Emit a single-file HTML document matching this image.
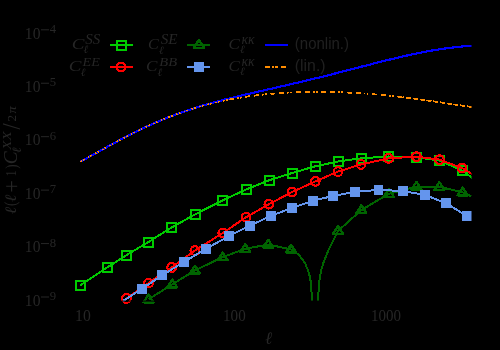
<!DOCTYPE html>
<html><head><meta charset="utf-8"><style>
html,body{margin:0;padding:0;background:#000;}
svg{display:block;}
</style></head><body>
<svg width="500" height="350" viewBox="0 0 500 350">
<rect width="500" height="350" fill="#000"/>
<g style="will-change:transform"><text transform="translate(75.05,320.70) scale(0.967,1)" font-family="Liberation Serif" font-style="normal" font-size="16.24" fill="#262626">10</text>
<text transform="translate(223.08,320.70) scale(0.929,1)" font-family="Liberation Serif" font-style="normal" font-size="16.24" fill="#262626">100</text>
<text transform="translate(370.94,320.70) scale(0.924,1)" font-family="Liberation Serif" font-style="normal" font-size="16.24" fill="#262626">1000</text>
<text transform="translate(24.85,38.50) scale(0.960,1)" font-family="Liberation Serif" font-style="normal" font-size="16.24" fill="#262626">10</text>
<text transform="translate(49.80,33.00) scale(1.033,1)" font-family="Liberation Serif" font-style="normal" font-size="12.31" fill="#262626">4</text>
<text transform="translate(24.85,91.94) scale(0.960,1)" font-family="Liberation Serif" font-style="normal" font-size="16.24" fill="#262626">10</text>
<text transform="translate(49.80,86.44) scale(1.033,1)" font-family="Liberation Serif" font-style="normal" font-size="12.31" fill="#262626">5</text>
<text transform="translate(24.85,145.38) scale(0.960,1)" font-family="Liberation Serif" font-style="normal" font-size="16.24" fill="#262626">10</text>
<text transform="translate(49.80,139.88) scale(1.033,1)" font-family="Liberation Serif" font-style="normal" font-size="12.31" fill="#262626">6</text>
<text transform="translate(24.85,198.82) scale(0.960,1)" font-family="Liberation Serif" font-style="normal" font-size="16.24" fill="#262626">10</text>
<text transform="translate(49.80,193.32) scale(1.033,1)" font-family="Liberation Serif" font-style="normal" font-size="12.31" fill="#262626">7</text>
<text transform="translate(24.85,252.26) scale(0.960,1)" font-family="Liberation Serif" font-style="normal" font-size="16.24" fill="#262626">10</text>
<text transform="translate(49.80,246.76) scale(1.033,1)" font-family="Liberation Serif" font-style="normal" font-size="12.31" fill="#262626">8</text>
<text transform="translate(24.85,305.70) scale(0.960,1)" font-family="Liberation Serif" font-style="normal" font-size="16.24" fill="#262626">10</text>
<text transform="translate(49.80,300.20) scale(1.033,1)" font-family="Liberation Serif" font-style="normal" font-size="12.31" fill="#262626">9</text>
<text transform="translate(71.69,49.30) scale(1.256,1)" font-family="Liberation Serif" font-style="italic" font-size="15.12" fill="#262626">C</text>
<text transform="translate(85.30,43.60) scale(1.090,1)" font-family="Liberation Serif" font-style="italic" font-size="13.73" fill="#262626">SS</text>
<text transform="translate(83.60,52.90) scale(1.006,1)" font-family="Liberation Serif" font-style="italic" font-size="11.22" fill="#262626">&#8467;</text>
<text transform="translate(68.79,70.70) scale(1.256,1)" font-family="Liberation Serif" font-style="italic" font-size="15.12" fill="#262626">C</text>
<text transform="translate(82.60,66.40) scale(1.055,1)" font-family="Liberation Serif" font-style="italic" font-size="13.49" fill="#262626">EE</text>
<text transform="translate(80.70,75.70) scale(1.006,1)" font-family="Liberation Serif" font-style="italic" font-size="11.22" fill="#262626">&#8467;</text>
<text transform="translate(147.97,49.30) scale(1.069,1)" font-family="Liberation Serif" font-style="italic" font-size="15.12" fill="#262626">C</text>
<text transform="translate(160.70,44.30) scale(1.105,1)" font-family="Liberation Serif" font-style="italic" font-size="13.73" fill="#262626">SE</text>
<text transform="translate(159.00,53.60) scale(1.006,1)" font-family="Liberation Serif" font-style="italic" font-size="11.22" fill="#262626">&#8467;</text>
<text transform="translate(145.91,71.40) scale(1.131,1)" font-family="Liberation Serif" font-style="italic" font-size="15.12" fill="#262626">C</text>
<text transform="translate(159.30,66.40) scale(1.079,1)" font-family="Liberation Serif" font-style="italic" font-size="13.49" fill="#262626">BB</text>
<text transform="translate(157.60,75.70) scale(1.006,1)" font-family="Liberation Serif" font-style="italic" font-size="11.22" fill="#262626">&#8467;</text>
<text transform="translate(228.62,48.90) scale(1.121,1)" font-family="Liberation Serif" font-style="italic" font-size="15.12" fill="#262626">C</text>
<text transform="translate(241.40,44.40) scale(1.013,1)" font-family="Liberation Serif" font-style="italic" font-size="13.59" fill="#262626">&#954;&#954;</text>
<text transform="translate(240.00,53.40) scale(1.006,1)" font-family="Liberation Serif" font-style="italic" font-size="11.22" fill="#262626">&#8467;</text>
<text transform="translate(228.62,70.70) scale(1.121,1)" font-family="Liberation Serif" font-style="italic" font-size="15.12" fill="#262626">C</text>
<text transform="translate(241.40,66.20) scale(1.013,1)" font-family="Liberation Serif" font-style="italic" font-size="13.59" fill="#262626">&#954;&#954;</text>
<text transform="translate(240.00,75.20) scale(1.006,1)" font-family="Liberation Serif" font-style="italic" font-size="11.22" fill="#262626">&#8467;</text>
<text transform="translate(294.87,48.57) scale(0.922,1)" font-family="Liberation Sans" font-style="normal" fill-opacity="0.85" font-size="16.27" fill="#262626">(nonlin.)</text>
<text transform="translate(294.81,70.98) scale(0.983,1)" font-family="Liberation Sans" font-style="normal" fill-opacity="0.85" font-size="16.11" fill="#262626">(lin.)</text>
<text transform="translate(265.10,343.90) scale(0.996,1)" font-family="Liberation Serif" font-style="italic" font-size="17.36" fill="#262626">&#8467;</text>
<rect x="41" y="29.30" width="8" height="1" fill="#262626"/>
<rect x="41" y="82.74" width="8" height="1" fill="#262626"/>
<rect x="41" y="136.18" width="8" height="1" fill="#262626"/>
<rect x="41" y="189.62" width="8" height="1" fill="#262626"/>
<rect x="41" y="243.06" width="8" height="1" fill="#262626"/>
<rect x="41" y="296.50" width="8" height="1" fill="#262626"/><g transform="translate(16,214.2) rotate(-90)"><text transform="translate(0.00,-0.10) scale(1.100,1)" font-family="Liberation Serif" font-style="italic" font-size="15.59" fill="#262626">&#8467;</text><text transform="translate(8.30,-0.29) scale(0.752,1)" font-family="Liberation Serif" font-style="normal" font-size="17.61" fill="#262626">(</text><text transform="translate(12.10,-0.10) scale(1.100,1)" font-family="Liberation Serif" font-style="italic" font-size="15.59" fill="#262626">&#8467;</text><text transform="translate(21.74,3.17) scale(0.988,1)" font-family="Liberation Serif" font-style="normal" font-size="22.23" fill="#262626">+</text><text transform="translate(37.83,-0.10) scale(0.771,1)" font-family="Liberation Serif" font-style="normal" font-size="15.15" fill="#262626">1</text><text transform="translate(45.40,0.68) scale(0.755,1)" font-family="Liberation Serif" font-style="normal" font-size="17.00" fill="#262626">)</text><text transform="translate(49.84,1.10) scale(0.993,1)" font-family="Liberation Serif" font-style="italic" font-size="19.50" fill="#262626">C</text><text transform="translate(61.10,4.60) scale(1.099,1)" font-family="Liberation Serif" font-style="italic" font-size="12.75" fill="#262626">&#8467;</text><text transform="translate(64.50,-5.10) scale(1.220,1)" font-family="Liberation Serif" font-style="italic" font-size="12.31" fill="#262626">XX</text><text transform="translate(84.70,3.50) scale(0.913,1)" font-family="Liberation Serif" font-style="normal" font-size="24.25" fill="#262626">/</text><text transform="translate(92.70,-0.50) scale(0.970,1)" font-family="Liberation Serif" font-style="normal" font-size="13.49" fill="#262626">2</text><text transform="translate(100.70,0.00) scale(1.111,1)" font-family="Liberation Serif" font-style="italic" font-size="13.19" fill="#262626">&#960;</text></g></g>
<defs><clipPath id="ax"><rect x="40" y="15" width="431.5" height="286"/></clipPath><clipPath id="axm"><rect x="40" y="15" width="431.5" height="300"/></clipPath></defs><g clip-path="url(#axm)"><polyline points="80.5,161.6 85.5,158.9 90.4,156.2 95.4,153.5 100.3,150.7 105.3,148.0 110.2,145.2 115.2,142.5 120.1,139.9 125.1,137.3 130.0,134.7 135.0,132.2 139.9,129.8 144.9,127.4 149.8,125.2 154.8,123.0 159.8,120.8 164.7,118.8 169.7,116.8 174.6,115.0 179.6,113.2 184.5,111.4 189.5,109.8 194.4,108.2 199.4,106.6 204.3,105.1 209.3,103.7 214.2,102.4 219.2,101.0 224.1,99.7 229.1,98.5 234.0,97.3 239.0,96.1 244.0,94.9 248.9,93.8 253.9,92.6 258.8,91.5 263.8,90.4 268.7,89.3 273.7,88.2 278.6,87.0 283.6,85.9 288.5,84.8 293.5,83.6 298.4,82.5 303.4,81.3 308.3,80.1 313.3,78.9 318.3,77.7 323.2,76.5 328.2,75.3 333.1,74.0 338.1,72.7 343.0,71.5 348.0,70.2 352.9,68.9 357.9,67.6 362.8,66.3 367.8,65.1 372.7,63.8 377.7,62.5 382.6,61.3 387.6,60.1 392.5,58.9 397.5,57.7 402.5,56.5 407.4,55.4 412.4,54.4 417.3,53.3 422.3,52.3 427.2,51.4 432.2,50.5 437.1,49.7 442.1,48.9 447.0,48.2 452.0,47.6 456.9,47.0 461.9,46.5 466.8,46.0 471.8,45.6" fill="none" stroke="#0000ff" stroke-width="2.2" shape-rendering="crispEdges"/><polyline points="80.5,161.6 85.5,158.9 90.4,156.2 95.4,153.4 100.3,150.7 105.3,147.9 110.2,145.2 115.2,142.5 120.1,139.9 125.1,137.3 130.0,134.7 135.0,132.2 139.9,129.8 144.9,127.5 149.8,125.2 154.8,123.0 159.8,120.8 164.7,118.8 169.7,116.8 174.6,115.0 179.6,113.2 184.5,111.4 189.5,109.8 194.4,108.3 199.4,106.8 204.3,105.4 209.3,104.1 214.2,102.9 219.2,101.7 224.1,100.7 229.1,99.6" fill="none" stroke="#ff8c00" stroke-width="1.6" stroke-dasharray="1.6 1.4 1.6 3.6" shape-rendering="crispEdges"/><polyline points="229.1,99.6 234.0,98.7 239.0,97.9 244.0,97.1 248.9,96.3 253.9,95.7 258.8,95.0 263.8,94.5 268.7,94.0 273.7,93.6 278.6,93.2 283.6,92.8 288.5,92.6 293.5,92.3 298.4,92.1 303.4,92.0 308.3,91.9 313.3,91.9 318.3,91.8 323.2,91.9 328.2,91.9 333.1,92.0 338.1,92.2 343.0,92.4 348.0,92.6 352.9,92.8 357.9,93.1 362.8,93.5 367.8,93.8 372.7,94.2 377.7,94.6 382.6,95.1 387.6,95.6 392.5,96.1 397.5,96.6 402.5,97.2" fill="none" stroke="#ff8c00" stroke-width="1.8" stroke-dasharray="5 3 1.8 1.2 1.8 3.6 5 4" shape-rendering="crispEdges"/><polyline points="402.5,97.2 407.4,97.8 412.4,98.4 417.3,99.1 422.3,99.8 427.2,100.5 432.2,101.2 437.1,101.9 442.1,102.6 447.0,103.4 452.0,104.1 456.9,104.9 461.9,105.6 466.8,106.3 471.8,107.0" fill="none" stroke="#ff8c00" stroke-width="1.8" stroke-dasharray="5 1.8" stroke-dashoffset="3" shape-rendering="crispEdges"/><polyline points="80.3,285.4 107.5,267.3 126.3,255.2 148.5,242.0 171.5,227.5 195.5,214.2 222.7,200.3 246.2,189.4 269.0,180.3 292.0,173.0 315.3,166.3 338.3,161.4 361.3,158.3 388.4,156.5 416.3,157.2 439.6,160.5 462.5,170.6 472.5,178.2" fill="none" stroke="#00cc00" stroke-width="2" shape-rendering="crispEdges"/><rect x="75.8" y="280.9" width="9" height="9" fill="none" stroke="#00cc00" stroke-width="2" shape-rendering="crispEdges"/><rect x="103.0" y="262.8" width="9" height="9" fill="none" stroke="#00cc00" stroke-width="2" shape-rendering="crispEdges"/><rect x="121.8" y="250.7" width="9" height="9" fill="none" stroke="#00cc00" stroke-width="2" shape-rendering="crispEdges"/><rect x="144.0" y="237.5" width="9" height="9" fill="none" stroke="#00cc00" stroke-width="2" shape-rendering="crispEdges"/><rect x="167.0" y="223.0" width="9" height="9" fill="none" stroke="#00cc00" stroke-width="2" shape-rendering="crispEdges"/><rect x="191.0" y="209.7" width="9" height="9" fill="none" stroke="#00cc00" stroke-width="2" shape-rendering="crispEdges"/><rect x="218.2" y="195.8" width="9" height="9" fill="none" stroke="#00cc00" stroke-width="2" shape-rendering="crispEdges"/><rect x="241.7" y="184.9" width="9" height="9" fill="none" stroke="#00cc00" stroke-width="2" shape-rendering="crispEdges"/><rect x="264.5" y="175.8" width="9" height="9" fill="none" stroke="#00cc00" stroke-width="2" shape-rendering="crispEdges"/><rect x="287.5" y="168.5" width="9" height="9" fill="none" stroke="#00cc00" stroke-width="2" shape-rendering="crispEdges"/><rect x="310.8" y="161.8" width="9" height="9" fill="none" stroke="#00cc00" stroke-width="2" shape-rendering="crispEdges"/><rect x="333.8" y="156.9" width="9" height="9" fill="none" stroke="#00cc00" stroke-width="2" shape-rendering="crispEdges"/><rect x="356.8" y="153.8" width="9" height="9" fill="none" stroke="#00cc00" stroke-width="2" shape-rendering="crispEdges"/><rect x="383.9" y="152.0" width="9" height="9" fill="none" stroke="#00cc00" stroke-width="2" shape-rendering="crispEdges"/><rect x="411.8" y="152.7" width="9" height="9" fill="none" stroke="#00cc00" stroke-width="2" shape-rendering="crispEdges"/><rect x="435.1" y="156.0" width="9" height="9" fill="none" stroke="#00cc00" stroke-width="2" shape-rendering="crispEdges"/><rect x="458.0" y="166.1" width="9" height="9" fill="none" stroke="#00cc00" stroke-width="2" shape-rendering="crispEdges"/><polyline points="148.5,299.3 172.2,284.4 194.9,270.4 222.7,257.2 245.3,248.8 268.3,244.5 291.0,249.4 299.0,255.0 305.0,263.0 309.0,273.0 311.0,283.0 312.0,301.0" fill="none" stroke="#006400" stroke-width="2" shape-rendering="crispEdges"/><polyline points="318.0,301.0 319.0,283.0 321.0,271.0 324.0,261.0 329.0,249.0 336.0,235.0 338.1,230.8 361.4,210.0 388.8,193.8 416.4,186.6 439.4,186.8 462.6,192.3 471.4,196.4" fill="none" stroke="#006400" stroke-width="2" shape-rendering="crispEdges"/><polygon points="148.5,294.6 143.5,302.3 153.5,302.3" fill="none" stroke="#006400" stroke-width="2.4" stroke-linejoin="round" shape-rendering="crispEdges"/><polygon points="172.2,279.7 167.2,287.4 177.2,287.4" fill="none" stroke="#006400" stroke-width="2.4" stroke-linejoin="round" shape-rendering="crispEdges"/><polygon points="194.9,265.7 189.9,273.4 199.9,273.4" fill="none" stroke="#006400" stroke-width="2.4" stroke-linejoin="round" shape-rendering="crispEdges"/><polygon points="222.7,252.5 217.7,260.2 227.7,260.2" fill="none" stroke="#006400" stroke-width="2.4" stroke-linejoin="round" shape-rendering="crispEdges"/><polygon points="245.3,244.1 240.3,251.8 250.3,251.8" fill="none" stroke="#006400" stroke-width="2.4" stroke-linejoin="round" shape-rendering="crispEdges"/><polygon points="268.3,239.8 263.3,247.5 273.3,247.5" fill="none" stroke="#006400" stroke-width="2.4" stroke-linejoin="round" shape-rendering="crispEdges"/><polygon points="291.0,244.7 286.0,252.4 296.0,252.4" fill="none" stroke="#006400" stroke-width="2.4" stroke-linejoin="round" shape-rendering="crispEdges"/><polygon points="338.1,226.1 333.1,233.8 343.1,233.8" fill="none" stroke="#006400" stroke-width="2.4" stroke-linejoin="round" shape-rendering="crispEdges"/><polygon points="361.4,205.3 356.4,213.0 366.4,213.0" fill="none" stroke="#006400" stroke-width="2.4" stroke-linejoin="round" shape-rendering="crispEdges"/><polygon points="388.8,189.1 383.8,196.8 393.8,196.8" fill="none" stroke="#006400" stroke-width="2.4" stroke-linejoin="round" shape-rendering="crispEdges"/><polygon points="416.4,181.9 411.4,189.6 421.4,189.6" fill="none" stroke="#006400" stroke-width="2.4" stroke-linejoin="round" shape-rendering="crispEdges"/><polygon points="439.4,182.1 434.4,189.8 444.4,189.8" fill="none" stroke="#006400" stroke-width="2.4" stroke-linejoin="round" shape-rendering="crispEdges"/><polygon points="462.6,187.6 457.6,195.3 467.6,195.3" fill="none" stroke="#006400" stroke-width="2.4" stroke-linejoin="round" shape-rendering="crispEdges"/><polyline points="126.5,298.5 148.6,283.0 171.6,267.5 194.9,250.6 222.7,233.0 246.1,217.2 268.8,204.2 292.0,192.1 315.3,181.4 338.0,171.6 361.0,164.4 388.6,158.4 416.4,156.6 439.4,159.6 462.0,168.0 472.5,174.3" fill="none" stroke="#ff0000" stroke-width="2" shape-rendering="crispEdges"/><circle cx="126.5" cy="298.5" r="4.3" fill="none" stroke="#ff0000" stroke-width="2.2" shape-rendering="crispEdges"/><circle cx="148.6" cy="283.0" r="4.3" fill="none" stroke="#ff0000" stroke-width="2.2" shape-rendering="crispEdges"/><circle cx="171.6" cy="267.5" r="4.3" fill="none" stroke="#ff0000" stroke-width="2.2" shape-rendering="crispEdges"/><circle cx="194.9" cy="250.6" r="4.3" fill="none" stroke="#ff0000" stroke-width="2.2" shape-rendering="crispEdges"/><circle cx="222.7" cy="233.0" r="4.3" fill="none" stroke="#ff0000" stroke-width="2.2" shape-rendering="crispEdges"/><circle cx="246.1" cy="217.2" r="4.3" fill="none" stroke="#ff0000" stroke-width="2.2" shape-rendering="crispEdges"/><circle cx="268.8" cy="204.2" r="4.3" fill="none" stroke="#ff0000" stroke-width="2.2" shape-rendering="crispEdges"/><circle cx="292.0" cy="192.1" r="4.3" fill="none" stroke="#ff0000" stroke-width="2.2" shape-rendering="crispEdges"/><circle cx="315.3" cy="181.4" r="4.3" fill="none" stroke="#ff0000" stroke-width="2.2" shape-rendering="crispEdges"/><circle cx="338.0" cy="171.6" r="4.3" fill="none" stroke="#ff0000" stroke-width="2.2" shape-rendering="crispEdges"/><circle cx="361.0" cy="164.4" r="4.3" fill="none" stroke="#ff0000" stroke-width="2.2" shape-rendering="crispEdges"/><circle cx="388.6" cy="158.4" r="4.3" fill="none" stroke="#ff0000" stroke-width="2.2" shape-rendering="crispEdges"/><circle cx="416.4" cy="156.6" r="4.3" fill="none" stroke="#ff0000" stroke-width="2.2" shape-rendering="crispEdges"/><circle cx="439.4" cy="159.6" r="4.3" fill="none" stroke="#ff0000" stroke-width="2.2" shape-rendering="crispEdges"/><circle cx="462.0" cy="168.0" r="4.3" fill="none" stroke="#ff0000" stroke-width="2.2" shape-rendering="crispEdges"/><polyline points="123.0,301.0 142.0,288.8 162.0,275.3 184.0,262.0 206.0,248.7 229.2,236.0 249.9,225.6 270.7,216.0 292.0,208.0 312.6,200.8 333.3,195.9 354.9,191.9 378.4,189.9 403.0,191.0 424.9,195.0 445.9,203.1 466.9,216.1" fill="none" stroke="#6495ed" stroke-width="2" shape-rendering="crispEdges"/><rect x="137.1" y="283.9" width="9.8" height="9.8" fill="#6495ed" shape-rendering="crispEdges"/><rect x="157.1" y="270.4" width="9.8" height="9.8" fill="#6495ed" shape-rendering="crispEdges"/><rect x="179.1" y="257.1" width="9.8" height="9.8" fill="#6495ed" shape-rendering="crispEdges"/><rect x="201.1" y="243.8" width="9.8" height="9.8" fill="#6495ed" shape-rendering="crispEdges"/><rect x="224.3" y="231.1" width="9.8" height="9.8" fill="#6495ed" shape-rendering="crispEdges"/><rect x="245.0" y="220.7" width="9.8" height="9.8" fill="#6495ed" shape-rendering="crispEdges"/><rect x="265.8" y="211.1" width="9.8" height="9.8" fill="#6495ed" shape-rendering="crispEdges"/><rect x="287.1" y="203.1" width="9.8" height="9.8" fill="#6495ed" shape-rendering="crispEdges"/><rect x="307.7" y="195.9" width="9.8" height="9.8" fill="#6495ed" shape-rendering="crispEdges"/><rect x="328.4" y="191.0" width="9.8" height="9.8" fill="#6495ed" shape-rendering="crispEdges"/><rect x="350.0" y="187.0" width="9.8" height="9.8" fill="#6495ed" shape-rendering="crispEdges"/><rect x="373.5" y="185.0" width="9.8" height="9.8" fill="#6495ed" shape-rendering="crispEdges"/><rect x="398.1" y="186.1" width="9.8" height="9.8" fill="#6495ed" shape-rendering="crispEdges"/><rect x="420.0" y="190.1" width="9.8" height="9.8" fill="#6495ed" shape-rendering="crispEdges"/><rect x="441.0" y="198.2" width="9.8" height="9.8" fill="#6495ed" shape-rendering="crispEdges"/><rect x="462.0" y="211.2" width="9.8" height="9.8" fill="#6495ed" shape-rendering="crispEdges"/></g><rect x="60" y="300.6" width="412" height="1" fill="#000"/>
<g><line x1="110" y1="44.8" x2="133" y2="44.8" stroke="#00cc00" stroke-width="2" shape-rendering="crispEdges"/><rect x="117.0" y="40.7" width="9" height="9" fill="none" stroke="#00cc00" stroke-width="2" shape-rendering="crispEdges"/><line x1="110" y1="66.9" x2="133" y2="66.9" stroke="#ff0000" stroke-width="2" shape-rendering="crispEdges"/><circle cx="121.0" cy="66.9" r="4.3" fill="none" stroke="#ff0000" stroke-width="2.2" shape-rendering="crispEdges"/><line x1="187" y1="44.8" x2="210" y2="44.8" stroke="#006400" stroke-width="2" shape-rendering="crispEdges"/><polygon points="198.9,40.0 193.9,47.7 203.9,47.7" fill="none" stroke="#006400" stroke-width="2.4" stroke-linejoin="round" shape-rendering="crispEdges"/><line x1="187" y1="66.9" x2="210" y2="66.9" stroke="#6495ed" stroke-width="2" shape-rendering="crispEdges"/><rect x="193.8" y="62.0" width="9.8" height="9.8" fill="#6495ed" shape-rendering="crispEdges"/><line x1="264.7" y1="44.9" x2="287.8" y2="44.9" stroke="#0000ff" stroke-width="2" shape-rendering="crispEdges"/><line x1="264.7" y1="66.9" x2="287.8" y2="66.9" stroke="#ff8c00" stroke-width="1.8" stroke-dasharray="5 2.2 2 1.5 2.4 3.1 5 4" shape-rendering="crispEdges"/></g>
</svg></body></html>
